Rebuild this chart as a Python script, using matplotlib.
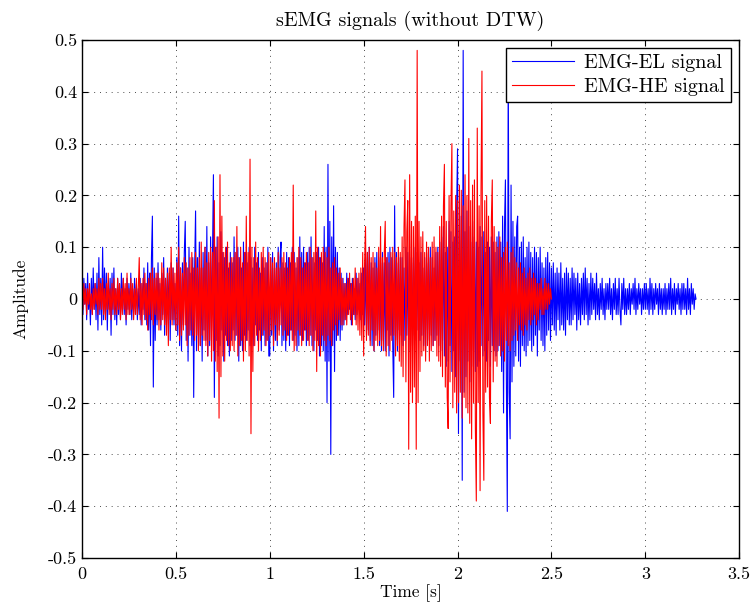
import numpy as np
import matplotlib
matplotlib.use("Agg")
import matplotlib.pyplot as plt
from matplotlib.ticker import FuncFormatter

plt.rcParams['font.family'] = ['cmr10', 'DejaVu Serif']
plt.rcParams['mathtext.fontset'] = 'cm'
plt.rcParams['axes.unicode_minus'] = False
plt.rcParams['axes.formatter.use_mathtext'] = True

# sampling step of the read-off values (s); values in hundredths
dt = 0.005

# EMG-EL signal, one row per 0.1 s
emg_el = [
    [2,-3,4,-1,3,-4,5,-2,1,-5,4,-3,6,-2,3,-4,5,-6,8,-3],
    [4,-5,10,-4,6,-3,5,-6,3,-2,4,-7,5,-3,6,-4,2,-5,4,-3],
    [3,-4,5,-2,4,-3,2,-5,4,-2,3,-3,5,-4,2,-3,4,-2,3,-4],
    [2,-3,4,-5,3,-2,6,-4,3,-5,7,-6,5,-9,8,16,-17,6,-8,4],
    [-5,7,-4,3,-6,5,-3,8,-7,4,-5,6,-3,5,-8,7,-4,6,-5,3],
    [-6,8,-7,16,-9,6,-10,7,-5,9,15,-8,6,-12,10,-7,5,-9,8,-19],
    [6,17,-10,8,-7,11,-9,6,-12,9,-6,10,-8,14,-11,7,-9,12,-6,8],
    [24,-19,10,-8,12,-11,7,-9,13,-6,9,-12,8,-7,10,-9,6,-11,9,-8],
    [7,-6,12,-8,9,-7,10,-12,8,-9,6,-10,11,-7,9,-8,7,-6,10,-9],
    [8,-7,6,-9,10,-5,7,-8,9,-6,5,-10,8,-7,6,-9,7,-8,10,-11],
    [-11,8,-7,9,-10,6,-8,7,-9,10,-6,8,11,-9,7,-8,6,-10,9,-7],
    [8,-9,7,-6,10,-8,9,-7,6,-10,8,-9,12,-7,9,-8,10,-6,7,-9],
    [9,-8,10,-7,12,-9,8,-10,7,-6,9,-8,10,-11,8,-9,7,-10,14,-12],
    [10,-20,26,-12,15,-30,12,-9,18,-14,10,-8,9,-7,6,-8,5,-6,4,-5],
    [3,-4,5,-3,4,-2,3,-5,4,-3,2,-4,5,-3,4,-2,3,-4,5,-3],
    [6,-5,8,-7,9,-6,10,-8,7,-9,6,-10,8,-7,9,-6,8,-9,7,-10],
    [9,-8,7,-10,8,-6,9,-11,10,-7,8,-9,-19,18,-8,9,-10,7,-6,8],
    [-7,8,-9,6,-8,10,-7,9,-10,8,-6,7,-9,8,-7,10,-8,9,-6,7],
    [-8,9,-7,6,-9,8,-10,7,-6,9,-8,10,-7,8,-9,6,-8,9,-7,10],
    [-9,11,-10,12,-8,14,-11,9,-13,10,-12,15,-9,13,-14,11,-10,12,-15,17],
    [29,-26,14,-12,16,-35,48,-18,13,-15,17,-12,14,-16,11,-13,15,-10,12,-14],
    [11,-13,10,-12,14,-9,12,-11,13,-10,9,-12,11,-8,10,-13,12,-9,11,-10],
    [9,-11,12,-10,13,-9,11,-14,16,-22,14,23,-15,-41,48,-18,-27,22,-16,15],
    [-13,12,-11,14,16,-12,10,-13,11,-9,12,-10,8,-11,10,-9,11,-8,9,-10],
    [8,-9,10,-7,9,-11,8,-6,10,-8,7,-9,6,-10,8,-7,9,-6,7,-8],
    [6,-5,7,-6,5,-7,6,-4,5,-6,7,-5,4,-6,5,-7,6,-4,5,-5],
    [4,-5,6,-4,5,-3,4,-6,5,-4,3,-5,4,-3,5,-4,6,-3,4,-5],
    [3,-4,5,-3,4,-2,3,-4,5,-3,2,-4,3,-2,4,-3,2,-4,3,-2],
    [3,-2,4,-3,2,-4,3,-2,4,-3,2,-3,4,-2,-5,3,-2,4,-3,2],
    [-3,2,-2,3,-3,2,-1,3,-2,4,-3,2,-2,3,-1,2,-3,2,-2,3],
    [-2,3,-2,2,-3,4,-2,3,-3,2,-2,3,-1,2,-3,3,-2,2,-3,2],
    [-2,3,-3,2,-2,3,-2,4,-3,2,-2,3,-3,2,-1,3,-2,2,-3,3],
    [-2,3,-2,2,-3,4,-2,2,-3,3,-1,2,-2,1,0],
]

# EMG-HE signal, one row per 0.1 s
emg_he = [
    [1,-2,3,-1,2,-3,2,-1,3,-2,1,-3,2,-2,3,-1,2,-3,4,-2],
    [3,-2,4,-3,2,-4,3,-2,5,-3,2,-4,3,-2,4,-3,2,-3,4,-2],
    [3,-4,2,-3,4,-2,3,-4,5,-3,2,-3,4,-2,3,-4,2,-3,4,-3],
    [2,8,-4,3,-5,4,-3,5,-4,3,-6,4,-3,5,-4,6,-5,4,-3,5],
    [-4,5,-6,4,-5,7,-4,6,-5,4,-7,5,-9,6,-4,10,-5,6,-4,5],
    [-6,7,-5,10,-8,6,-7,5,-6,8,-5,7,-9,6,-7,8,-6,9,-7,6],
    [-8,9,-7,6,-10,8,-9,11,-7,6,-8,10,-9,7,-11,9,-8,10,-12,9],
    [-10,19,-12,10,-14,12,-23,24,-15,16,-11,9,-12,10,-8,11,-9,7,-10,8],
    [-9,8,-10,9,-7,14,-11,8,-9,10,-8,7,-12,9,-10,16,-8,9,-11,27],
    [-26,10,-14,8,-9,11,-7,8,-10,6,-8,9,-7,10,-6,8,-9,7,-8,9],
    [-7,8,-6,7,-9,8,-5,6,-8,9,-7,6,-5,8,-7,9,-6,7,-8,6],
    [-7,8,-6,9,-8,22,-10,7,-9,8,-6,10,-7,8,-9,6,-8,7,-6,9],
    [-8,7,-9,10,-7,8,-10,9,-8,17,-14,10,-9,8,-11,9,-7,10,-8,9],
    [-9,8,-7,10,-8,6,-9,7,-6,8,-5,6,-7,5,-4,6,-5,4,-5,3],
    [-4,3,-5,4,-3,5,-4,3,-5,4,-3,6,-5,4,-6,5,-7,6,-8,9],
    [-11,7,14,-8,9,-7,10,-9,8,-6,9,-10,7,-8,6,-9,10,-8,14,-9],
    [8,-10,9,15,-11,8,-9,7,-10,9,-8,10,-7,9,-11,8,-9,10,-12,9],
    [-13,12,-15,14,23,-16,13,19,-29,24,-18,15,-20,14,-17,16,-29,48,-20,15],
    [-14,12,-11,13,-10,9,-12,11,-9,10,-12,8,-10,11,-9,12,-8,10,-11,9],
    [-12,14,-13,16,-15,18,26,-17,15,-19,-25,20,-16,18,30,-21,17,-18,20,-22],
    [19,-20,22,-18,21,-23,18,-19,24,-21,20,-22,31,-24,19,-27,22,-20,23,-25],
    [-39,33,-20,18,-37,21,44,-22,-35,19,-18,20,-17,16,-19,-24,15,23,-16,14],
    [-12,11,-13,10,-9,12,-11,8,-10,9,-12,10,-8,11,-9,7,-10,9,-8,10],
    [-7,8,-6,7,-8,6,-5,7,-6,5,-7,6,-5,4,-6,5,-4,6,-5,4],
    [-4,5,-3,4,-5,3,-4,3,-2,4,-3,2,-3,4,-2,3,-2,3,-1,2,0],
]

el = np.concatenate([np.array(r, float) for r in emg_el]) / 100
he = np.concatenate([np.array(r, float) for r in emg_he]) / 100
t_el = np.arange(len(el)) * dt
t_he = np.arange(len(he)) * dt


def tick_fmt(v, pos):
    v = round(v, 2)
    if abs(v) < 1e-9:
        return '0'
    return '%g' % v


fig = plt.figure(figsize=(7.52, 6.12), dpi=100)
ax = fig.add_axes([0.109, 0.0882, 0.874, 0.8464])

ax.plot(t_el, el, color='b', lw=0.8, label='EMG-EL signal')
ax.plot(t_he, he, color='r', lw=0.8, label='EMG-HE signal')

ax.set_xlim(0, 3.5)
ax.set_ylim(-0.5, 0.5)
ax.set_xticks(np.arange(0, 3.51, 0.5))
ax.set_yticks(np.arange(-0.5, 0.51, 0.1))
ax.xaxis.set_major_formatter(FuncFormatter(tick_fmt))
ax.yaxis.set_major_formatter(FuncFormatter(tick_fmt))
ax.tick_params(direction='in', top=True, right=True, labelsize=13, length=4)
ax.tick_params(axis='x', pad=6)
ax.grid(True, linestyle=(0, (1, 5)), color='0.3', lw=0.7)
for s in ax.spines.values():
    s.set_linewidth(1.0)

ax.set_title('sEMG signals (without DTW)', fontsize=14.5, pad=10)
ax.set_xlabel('Time [s]', fontsize=12.5, labelpad=2)
ax.set_ylabel('Amplitude', fontsize=12.5, labelpad=14)

leg = ax.legend(loc='upper right', fontsize=14.5, handlelength=3.1, fancybox=False,
                framealpha=1, edgecolor='k', borderpad=0.3, labelspacing=0.3,
                borderaxespad=0.4, handletextpad=0.5)
leg.get_frame().set_linewidth(1.0)

fig.savefig('out.png', dpi=100)
